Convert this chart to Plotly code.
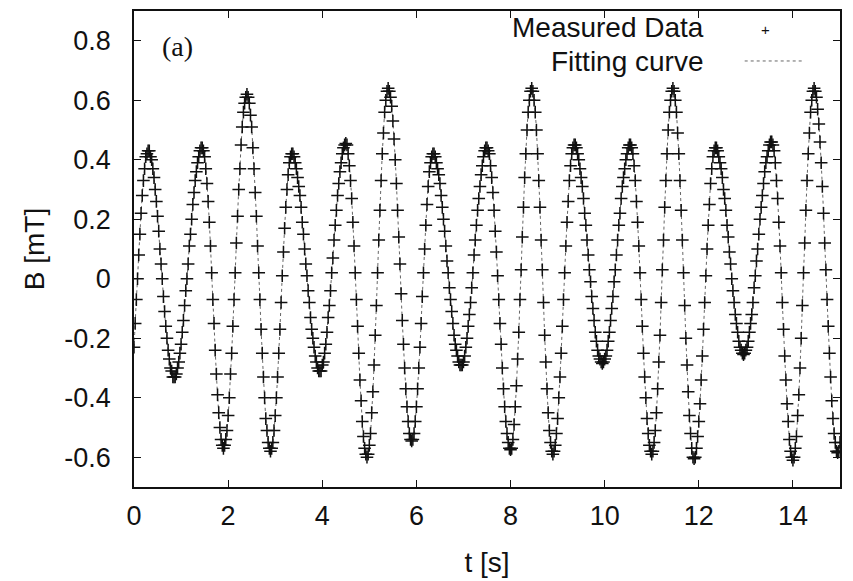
import plotly.graph_objects as go

# sampling interval of the recorded field (s)
SAMPLE_STEP = 0.025

# measured B field [mT], one line per half swing
B_MEASURED = [
    -0.23, -0.15, -0.07, 0.00, 0.08, 0.15, 0.22, 0.28, 0.33, 0.37, 0.41, 0.42, 0.43,
    0.43, 0.41, 0.40, 0.37, 0.34, 0.30, 0.26, 0.21, 0.16, 0.10, 0.05, 0.00, -0.06, -0.11, -0.16, -0.20, -0.24, -0.27, -0.30, -0.31, -0.33, -0.33,
    -0.33, -0.32, -0.30, -0.28, -0.25, -0.22, -0.18, -0.14, -0.09, -0.04, 0.00, 0.05, 0.11, 0.15, 0.20, 0.25, 0.29, 0.33, 0.36, 0.39, 0.41, 0.43, 0.44, 0.44,
    0.43, 0.41, 0.37, 0.32, 0.26, 0.19, 0.11, 0.02, -0.07, -0.15, -0.24, -0.32, -0.39, -0.45, -0.50, -0.54, -0.56, -0.57,
    -0.56, -0.54, -0.51, -0.46, -0.40, -0.32, -0.25, -0.16, -0.07, 0.02, 0.12, 0.21, 0.30, 0.37, 0.45, 0.51, 0.56, 0.59, 0.61, 0.62,
    0.61, 0.59, 0.55, 0.51, 0.44, 0.37, 0.29, 0.21, 0.11, 0.02, -0.07, -0.17, -0.25, -0.33, -0.40, -0.47, -0.51, -0.55, -0.57, -0.58,
    -0.57, -0.55, -0.51, -0.46, -0.40, -0.33, -0.25, -0.17, -0.08, 0.01, 0.09, 0.17, 0.24, 0.30, 0.35, 0.39, 0.41, 0.42,
    0.42, 0.41, 0.39, 0.37, 0.34, 0.31, 0.28, 0.24, 0.19, 0.15, 0.10, 0.05, 0.01, -0.04, -0.08, -0.13, -0.17, -0.20, -0.23, -0.26, -0.28, -0.30, -0.31, -0.31,
    -0.31, -0.29, -0.28, -0.25, -0.22, -0.18, -0.13, -0.09, -0.04, 0.02, 0.07, 0.13, 0.18, 0.23, 0.28, 0.32, 0.36, 0.39, 0.42, 0.44, 0.45, 0.455,
    0.45, 0.42, 0.38, 0.33, 0.27, 0.19, 0.11, 0.02, -0.07, -0.16, -0.25, -0.34, -0.41, -0.48, -0.53, -0.57, -0.59, -0.60,
    -0.59, -0.56, -0.52, -0.45, -0.38, -0.29, -0.19, -0.09, 0.02, 0.13, 0.23, 0.33, 0.42, 0.49, 0.56, 0.60, 0.63, 0.64,
    0.63, 0.61, 0.58, 0.53, 0.47, 0.40, 0.32, 0.23, 0.14, 0.05, -0.05, -0.14, -0.22, -0.30, -0.37, -0.43, -0.48, -0.52, -0.54, -0.545,
    -0.54, -0.52, -0.48, -0.43, -0.37, -0.30, -0.23, -0.15, -0.06, 0.02, 0.10, 0.18, 0.25, 0.31, 0.36, 0.39, 0.41, 0.42,
    0.42, 0.41, 0.39, 0.37, 0.35, 0.32, 0.28, 0.24, 0.20, 0.16, 0.11, 0.06, 0.02, -0.03, -0.07, -0.11, -0.15, -0.19, -0.22, -0.24, -0.26, -0.28, -0.29, -0.29,
    -0.29, -0.28, -0.26, -0.23, -0.20, -0.16, -0.12, -0.08, -0.03, 0.02, 0.08, 0.13, 0.18, 0.23, 0.27, 0.31, 0.35, 0.38, 0.41, 0.43, 0.44, 0.44,
    0.43, 0.42, 0.38, 0.34, 0.29, 0.23, 0.16, 0.09, 0.01, -0.07, -0.15, -0.22, -0.30, -0.37, -0.43, -0.48, -0.52, -0.55, -0.57, -0.575,
    -0.57, -0.54, -0.49, -0.43, -0.36, -0.27, -0.18, -0.07, 0.03, 0.14, 0.24, 0.34, 0.42, 0.50, 0.56, 0.60, 0.63, 0.64,
    0.63, 0.60, 0.56, 0.50, 0.42, 0.33, 0.24, 0.13, 0.03, -0.08, -0.19, -0.28, -0.37, -0.45, -0.51, -0.55, -0.58, -0.59,
    -0.58, -0.56, -0.52, -0.47, -0.40, -0.33, -0.25, -0.16, -0.07, 0.02, 0.11, 0.19, 0.26, 0.33, 0.38, 0.42, 0.44, 0.45,
    0.45, 0.44, 0.42, 0.40, 0.37, 0.34, 0.31, 0.27, 0.22, 0.18, 0.13, 0.08, 0.03, -0.01, -0.06, -0.10, -0.14, -0.18, -0.21, -0.24, -0.26, -0.27, -0.28, -0.285,
    -0.28, -0.27, -0.26, -0.24, -0.21, -0.18, -0.14, -0.10, -0.06, -0.01, 0.03, 0.08, 0.13, 0.18, 0.22, 0.27, 0.31, 0.34, 0.37, 0.40, 0.42, 0.44, 0.45, 0.45,
    0.44, 0.42, 0.38, 0.33, 0.26, 0.19, 0.11, 0.02, -0.07, -0.16, -0.25, -0.33, -0.40, -0.47, -0.52, -0.56, -0.58, -0.59,
    -0.58, -0.55, -0.51, -0.45, -0.37, -0.28, -0.19, -0.08, 0.03, 0.13, 0.24, 0.33, 0.42, 0.50, 0.56, 0.60, 0.63, 0.64,
    0.63, 0.60, 0.56, 0.49, 0.42, 0.33, 0.23, 0.13, 0.02, -0.09, -0.20, -0.29, -0.38, -0.46, -0.52, -0.57, -0.60, -0.605,
    -0.60, -0.57, -0.53, -0.48, -0.42, -0.34, -0.26, -0.17, -0.08, 0.01, 0.10, 0.18, 0.25, 0.32, 0.37, 0.41, 0.43, 0.44,
    0.44, 0.43, 0.41, 0.39, 0.37, 0.34, 0.30, 0.27, 0.23, 0.18, 0.14, 0.09, 0.05, 0.00, -0.04, -0.08, -0.12, -0.15, -0.18, -0.21, -0.23, -0.24, -0.25, -0.255,
    -0.25, -0.24, -0.23, -0.21, -0.18, -0.15, -0.12, -0.08, -0.03, 0.01, 0.06, 0.10, 0.15, 0.20, 0.24, 0.28, 0.32, 0.36, 0.39, 0.41, 0.43, 0.45, 0.46, 0.46,
    0.45, 0.43, 0.39, 0.33, 0.27, 0.19, 0.11, 0.02, -0.08, -0.17, -0.26, -0.34, -0.42, -0.48, -0.54, -0.58, -0.60, -0.61,
    -0.60, -0.57, -0.53, -0.46, -0.39, -0.30, -0.20, -0.09, 0.02, 0.12, 0.23, 0.33, 0.42, 0.49, 0.56, 0.60, 0.63, 0.64,
    0.63, 0.61, 0.57, 0.52, 0.46, 0.39, 0.31, 0.22, 0.12, 0.03, -0.07, -0.16, -0.25, -0.33, -0.41, -0.47, -0.52, -0.55, -0.58, -0.585,
    -0.58, -0.55,
]
t_values = [round(i * SAMPLE_STEP, 3) for i in range(len(B_MEASURED))]

X_TICKS = [0, 2, 4, 6, 8, 10, 12, 14]
Y_TICKS = [-0.6, -0.4, -0.2, 0, 0.2, 0.4, 0.6, 0.8]
Y_TICK_TEXT = ["-0.6", "-0.4", "-0.2", "0", "0.2", "0.4", "0.6", "0.8"]

font = "Liberation Sans, Arial, sans-serif"
ink = "#111111"

fig = go.Figure()
fig.add_trace(go.Scatter(
    x=t_values, y=B_MEASURED, mode="lines", name="Fitting curve",
    line=dict(color="#666666", width=1, dash="dot", shape="spline"), showlegend=False,
))
fig.add_trace(go.Scatter(
    x=t_values, y=B_MEASURED, mode="markers", name="Measured Data",
    marker=dict(symbol="cross-thin", size=9, line=dict(color=ink, width=1.5)), showlegend=False,
))

axis_common = dict(
    showline=True, linecolor=ink, linewidth=1.5, mirror="ticks", ticks="inside", ticklen=7,
    tickcolor=ink, tickwidth=1.2, showgrid=False, zeroline=False,
    tickfont=dict(family=font, size=27, color=ink),
)
fig.update_xaxes(
    range=[0, 15], tickvals=X_TICKS, ticklabelstandoff=4,
    title=dict(text="t [s]", font=dict(family=font, size=28, color=ink), standoff=22),
    **axis_common,
)
fig.update_yaxes(
    range=[-0.7, 0.9], tickvals=Y_TICKS, ticktext=Y_TICK_TEXT, ticklabelstandoff=16,
    title=dict(text="B [mT]", font=dict(family=font, size=28, color=ink), standoff=12),
    **axis_common,
)

# gnuplot style key: text on the left, sample on the right
key_font = dict(family=font, size=28, color=ink)
fig.add_annotation(x=0.81, y=0.966, xref="paper", yref="paper", xanchor="right", yanchor="middle",
                   text="Measured Data", showarrow=False, font=key_font)
fig.add_annotation(x=0.81, y=0.893, xref="paper", yref="paper", xanchor="right", yanchor="middle",
                   text="Fitting curve", showarrow=False, font=key_font)
fig.add_annotation(x=0.894, y=0.962, xref="paper", yref="paper", xanchor="center", yanchor="middle",
                   text="+", showarrow=False, font=dict(family=font, size=15, color=ink))
fig.add_shape(type="line", xref="paper", yref="paper", x0=0.865, x1=0.948, y0=0.895, y1=0.895,
              line=dict(color="#666666", width=1, dash="dot"))
fig.add_annotation(x=0.93, y=0.78, xref="x", yref="y", xanchor="center", yanchor="middle",
                   text="(a)", showarrow=False,
                   font=dict(family="Liberation Serif, DejaVu Serif, serif", size=28, color=ink))

# the page body adds an 8 px offset, so the figure is kept 8 px smaller
fig.update_layout(
    width=845, height=573, plot_bgcolor="white", paper_bgcolor="white",
    margin=dict(l=126, r=13, t=1, b=94),
    showlegend=False,
)
fig.write_html("out.html")
